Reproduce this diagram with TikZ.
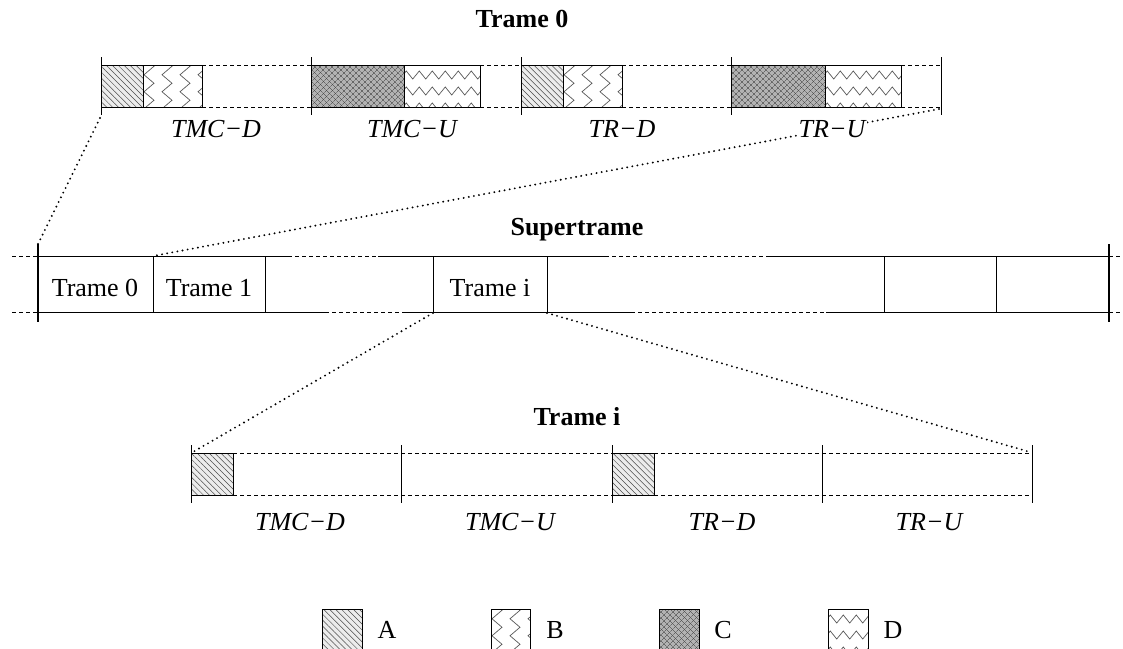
\documentclass[tikz,border=0pt]{standalone}
\usepackage{fontspec}
\setmainfont{Liberation Serif}
\usetikzlibrary{patterns.meta,decorations.pathmorphing}

% hatched cells of the legend
\newcommand{\cellA}[4]{%
  \fill[gray!15] (#1,#2) rectangle (#3,#4);
  \fill[pattern={Lines[angle=-45,distance=4.2pt,line width=0.5pt]},pattern color=black!70] (#1,#2) rectangle (#3,#4);
  \draw[line width=0.6pt] (#1,#2) rectangle (#3,#4);}
\newcommand{\cellB}[4]{%
  \begin{scope}
    \clip (#1,#2) rectangle (#3,#4);
    \fill[white] (#1,#2) rectangle (#3,#4);
    \foreach \k in {0,...,3}{\draw[zzb] ({#1+6+18*\k},{#2-3}) -- ({#1+6+18*\k},{#4+8});}
  \end{scope}
  \draw[line width=0.6pt] (#1,#2) rectangle (#3,#4);}
\newcommand{\cellC}[4]{%
  \fill[gray!60] (#1,#2) rectangle (#3,#4);
  \fill[pattern={Lines[angle=45,distance=4pt,line width=0.45pt]},pattern color=black!75] (#1,#2) rectangle (#3,#4);
  \fill[pattern={Lines[angle=-45,distance=4pt,line width=0.45pt]},pattern color=black!75] (#1,#2) rectangle (#3,#4);
  \draw[line width=0.6pt] (#1,#2) rectangle (#3,#4);}
\newcommand{\cellD}[4]{%
  \begin{scope}
    \clip (#1,#2) rectangle (#3,#4);
    \fill[white] (#1,#2) rectangle (#3,#4);
    \foreach \k in {0,...,3}{\draw[zzd] ({#1-1},{#2+10+16*\k}) -- ({#3+8},{#2+10+16*\k});}
  \end{scope}
  \draw[line width=0.6pt] (#1,#2) rectangle (#3,#4);}

\begin{document}
\begin{tikzpicture}[x=1pt,y=-1pt,
    txt/.style={font=\fontsize{26}{30}\selectfont, inner sep=0pt, anchor=base},
    ttl/.style={txt, font=\fontsize{26}{30}\selectfont\bfseries},
    lbl/.style={txt, font=\fontsize{26}{30}\selectfont\itshape, fill=white, inner sep=2pt},
    dsh/.style={dash pattern=on 4pt off 3pt, line width=0.6pt},
    tick/.style={line width=0.8pt},
    zoomline/.style={line width=2.1pt, line cap=round, dash pattern=on 0pt off 5.2pt},
    zzb/.style={decorate, decoration={zigzag, segment length=17pt, amplitude=5pt}, black!65, line width=0.7pt},
    zzd/.style={decorate, decoration={zigzag, segment length=13pt, amplitude=4pt}, black!65, line width=0.7pt}]
    \useasboundingbox (0,0) rectangle (1123,648);

    % points of the zoom lines
    \coordinate (z0l) at (100,118);
    \coordinate (z0r) at (939,109);
    \coordinate (s0) at (38,244);
    \coordinate (s1) at (153,256);
    \coordinate (sil) at (433,313);
    \coordinate (sir) at (547,313);
    \coordinate (til) at (193,452);
    \coordinate (tir) at (1030,452);
    \draw[zoomline] (z0l) -- (s0);
    \draw[zoomline] (z0r) -- (s1);
    \draw[zoomline] (sil) -- (til);
    \draw[zoomline] (sir) -- (tir);

    % Trame 0
    \node[ttl] (t0) at (522,27) {Trame 0};
    \foreach \x in {101,311,521,731,941} \draw[tick] (\x,57) -- (\x,115);
    \foreach \a/\b in {202/311,480/521,622/731,901/941} {
        \draw[dsh] (\a,65) -- (\b,65);
        \draw[dsh] (\a,107) -- (\b,107);
    }
    \cellA{101}{65}{143}{107} \cellB{143}{65}{202}{107}
    \cellC{311}{65}{404}{107} \cellD{404}{65}{480}{107}
    \cellA{521}{65}{563}{107} \cellB{563}{65}{622}{107}
    \cellC{731}{65}{825}{107} \cellD{825}{65}{901}{107}
    \node[lbl] (l0a) at (216,137) {TMC−D};
    \node[lbl] (l0b) at (412,137) {TMC−U};
    \node[lbl] (l0c) at (622,137) {TR−D};
    \node[lbl] (l0d) at (832,137) {TR−U};

    % Supertrame
    \node[ttl] (st) at (577,235) {Supertrame};
    \foreach \y in {256,312} {
        \draw[dsh] (12,\y) -- (38,\y);
        \draw[dsh] (1109,\y) -- (1123,\y);
    }
    \draw (38,256) -- (288,256);
    \draw[dsh] (288,256) -- (378,256);
    \draw (378,256) -- (605,256);
    \draw[dsh] (605,256) -- (769,256);
    \draw (769,256) -- (1109,256);
    \draw (38,312) -- (325,312);
    \draw[dsh] (325,312) -- (406,312);
    \draw (406,312) -- (631,312);
    \draw[dsh] (631,312) -- (826,312);
    \draw (826,312) -- (1109,312);
    \draw[line width=1.6pt] (38,244) -- (38,322);
    \draw[line width=1.6pt] (1109,244) -- (1109,322);
    \foreach \x in {153,265,433,547,884,996} \draw (\x,256) -- (\x,312);
    \node[txt] (c0) at (95,296) {Trame 0};
    \node[txt] (c1) at (209,296) {Trame 1};
    \node[txt] (ci) at (490,296) {Trame i};

    % Trame i
    \node[ttl] (ti) at (577,425) {Trame i};
    \foreach \x in {191,401,612,822,1032} \draw[tick] (\x,445) -- (\x,503);
    \foreach \y in {453,495} {
        \draw[dsh] (233,\y) -- (612,\y);
        \draw[dsh] (654,\y) -- (1032,\y);
    }
    \cellA{191}{453}{233}{495}
    \cellA{612}{453}{654}{495}
    \node[lbl] (lia) at (300,530) {TMC−D};
    \node[lbl] (lib) at (510,530) {TMC−U};
    \node[lbl] (lic) at (722,530) {TR−D};
    \node[lbl] (lid) at (929,530) {TR−U};

    % legende
    \cellA{322}{609}{362}{652} \node[txt] (ka) at (387,638) {A};
    \cellB{491}{609}{530}{652} \node[txt] (kb) at (555,638) {B};
    \cellC{659}{609}{699}{652} \node[txt] (kc) at (723,638) {C};
    \cellD{828}{609}{868}{652} \node[txt] (kd) at (893,638) {D};
\end{tikzpicture}
\end{document}
